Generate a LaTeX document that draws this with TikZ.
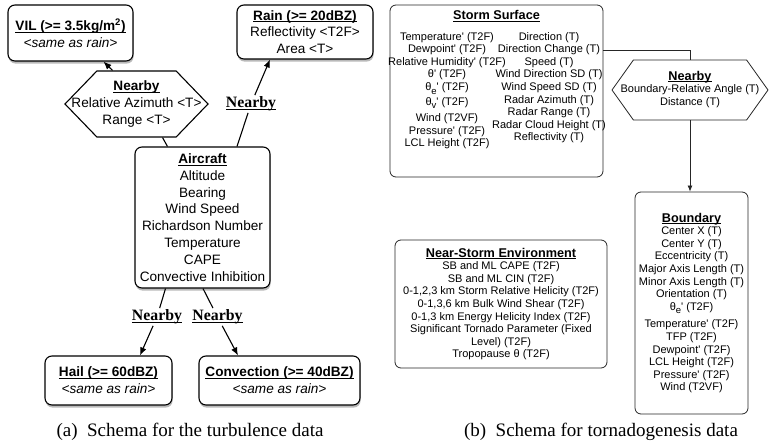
\documentclass[tikz,border=0pt]{standalone}
\usepackage{fontspec}
\setmainfont{Liberation Serif}
\newfontfamily\hv{Liberation Sans}
\usetikzlibrary{shapes.symbols,positioning,shadows,arrows.meta}

\newcommand{\pr}{\textquotesingle}
\newcommand{\hd}[1]{\begingroup\sbox0{\textbf{#1}}\rlap{\rule[-0.15em]{\wd0}{0.065em}}\usebox0\endgroup}
\newcommand{\sub}[1]{\raisebox{-3.5pt}[0pt][0pt]{\fontsize{9.5}{9.5}\selectfont #1}}
% text wider than the hexagon body spills into its points
\newcommand{\hexlines}[1]{\makebox[50pt]{\begin{tabular}{@{}c@{}}#1\end{tabular}}}

\begin{document}
\begin{tikzpicture}[x=1pt, y=1pt,
  lbox/.style={rectangle, draw, line width=1.1pt, rounded corners=7pt, fill=white, align=center,
    inner sep=1pt, font=\hv\fontsize{13.6}{16.8}\selectfont,
    drop shadow={shadow xshift=0.6pt, shadow yshift=-2.6pt, opacity=0.55}},
  hexa/.style={shape=signal, signal to=west and east, draw, line width=1.1pt, fill=white,
    inner sep=1pt},
  rbox/.style={rectangle, draw=black!85, line width=0.8pt, rounded corners=6pt, align=center,
    inner sep=1pt, font=\hv\fontsize{11}{12.6}\selectfont},
  rtext/.style={align=center, inner sep=0pt, font=\hv\fontsize{11}{12.6}\selectfont},
  nbylabel/.style={font=\fontsize{15.8}{17}\selectfont, inner sep=1.5pt},
  captxt/.style={font=\fontsize{19}{21}\selectfont, inner sep=0pt},
  arrow/.style={-{Latex[length=8pt,width=6.5pt]}, line width=1.1pt},
  sarrow/.style={-{Latex[length=6pt,width=5pt]}, line width=0.8pt, draw=black!85},
]
\useasboundingbox (0,0) rectangle (771,445);

% ----- (a) turbulence -----
\node[lbox, minimum width=125pt, minimum height=56pt] (vil) at (70.5,412)
  {\hd{VIL (>= 3.5kg/m\textsuperscript{2})}\\ \textit{<same as rain>}};
\node[lbox, minimum width=136pt, minimum height=54pt] (rain) at (305,413)
  {\hd{Rain (>= 20dBZ)}\\ Reflectivity <T2F>\\ Area <T>};
\node[hexa, minimum width=143pt, minimum height=66pt, signal pointer angle=92,
  font=\hv\fontsize{13.6}{16.8}\selectfont] (hexl) at (136.5,341)
  {\hexlines{\hd{Nearby}\\ Relative Azimuth <T>\\ Range <T>}};
\node[lbox, minimum width=135pt, minimum height=141pt] (air) at (202.5,227.5)
  {\hd{Aircraft}\\ Altitude\\ Bearing\\ Wind Speed\\ Richardson Number\\ Temperature\\ CAPE\\ Convective Inhibition};
\node[lbox, minimum width=127pt, minimum height=49pt] (hail) at (108.5,64.5)
  {\hd{Hail (>= 60dBZ)}\\ \textit{<same as rain>}};
\node[lbox, minimum width=161pt, minimum height=49pt] (conv) at (279.5,64.5)
  {\hd{Convection (>= 40dBZ)}\\ \textit{<same as rain>}};

\node[nbylabel] (nbr) at (251,341) {\hd{Nearby}};
\node[nbylabel] (nbh) at (157,128) {\hd{Nearby}};
\node[nbylabel] (nbc) at (217.5,128) {\hd{Nearby}};

\draw[line width=1.1pt] ([xshift=-35pt]air.north) -- ([xshift=26pt]hexl.south);
\draw[arrow] ([xshift=-24pt]hexl.north) -- ([xshift=33pt]vil.south);
\draw[line width=1.1pt] ([xshift=34.5pt]air.north) -- (nbr);
\draw[arrow] (nbr) -- ([xshift=-35pt]rain.south);
\draw[line width=1.1pt] ([xshift=-37pt]air.south) -- (nbh);
\draw[arrow] (nbh) -- ([xshift=31.5pt]hail.north);
\draw[line width=1.1pt] ([xshift=0.5pt]air.south) -- (nbc);
\draw[arrow] (nbc) -- ([xshift=-41.5pt]conv.north);

\node[captxt] (capa) at (190,13) {(a)\enspace Schema for the turbulence data};

% ----- (b) tornadogenesis -----
\node[rbox, minimum width=213pt, minimum height=172pt] (ss) at (496.5,354) {};
\node[rtext, font=\hv\fontsize{12.7}{14}\selectfont, below=6pt of ss.north] (sstitle) {\hd{Storm Surface}};
\node[rtext, anchor=north] (ssl) at (447,413)
  {Temperature\pr\ (T2F)\\ Dewpoint\pr\ (T2F)\\ Relative Humidity\pr\ (T2F)\\ θ\pr\ (T2F)\\
   θ\sub{e}\pr\ (T2F)\\[2pt] θ\sub{v}\pr\ (T2F)\\[4pt] Wind (T2VF)\\ Pressure\pr\ (T2F)\\ LCL Height (T2F)};
\node[rtext, anchor=north] (ssr) at (549,413)
  {Direction (T)\\ Direction Change (T)\\ Speed (T)\\ Wind Direction SD (T)\\ Wind Speed SD (T)\\
   Radar Azimuth (T)\\ Radar Range (T)\\ Radar Cloud Height (T)\\ Reflectivity (T)};

\node[hexa, draw=black!85, line width=0.8pt, minimum width=156pt, minimum height=60pt,
  signal pointer angle=109, font=\hv\fontsize{11}{12.6}\selectfont] (hexr) at (690,355)
  {\hexlines{{\fontsize{12.7}{14}\selectfont\hd{Nearby}}\\ Boundary-Relative Angle (T)\\ Distance (T)}};

\node[rbox, minimum width=113pt, minimum height=222pt] (bnd) at (691.5,142)
  {{\fontsize{12.7}{14}\selectfont\hd{Boundary}}\\ Center X (T)\\ Center Y (T)\\ Eccentricity (T)\\
   Major Axis Length (T)\\ Minor Axis Length (T)\\ Orientation (T)\\ θ\sub{e}\pr\ (T2F)\\[5pt]
   Temperature\pr\ (T2F)\\ TFP (T2F)\\ Dewpoint\pr\ (T2F)\\ LCL Height (T2F)\\ Pressure\pr\ (T2F)\\ Wind (T2VF)};

\node[rbox, minimum width=212pt, minimum height=128pt] (env) at (501,141)
  {{\fontsize{12.7}{14}\selectfont\hd{Near-Storm Environment}}\\ SB and ML CAPE (T2F)\\ SB and ML CIN (T2F)\\
   0-1,2,3 km Storm Relative Helicity (T2F)\\ 0-1,3,6 km Bulk Wind Shear (T2F)\\
   0-1,3 km Energy Helicity Index (T2F)\\ Significant Tornado Parameter (Fixed\\ Level) (T2F)\\
   Tropopause θ (T2F)};

\draw[line width=0.8pt, draw=black!85] ([yshift=41pt]ss.east) -| (hexr.north);
\draw[sarrow] (hexr.south) -- (hexr.south |- bnd.north);

\node[captxt] (capb) at (601,13) {(b)\enspace Schema for tornadogenesis data};
\end{tikzpicture}
\end{document}
